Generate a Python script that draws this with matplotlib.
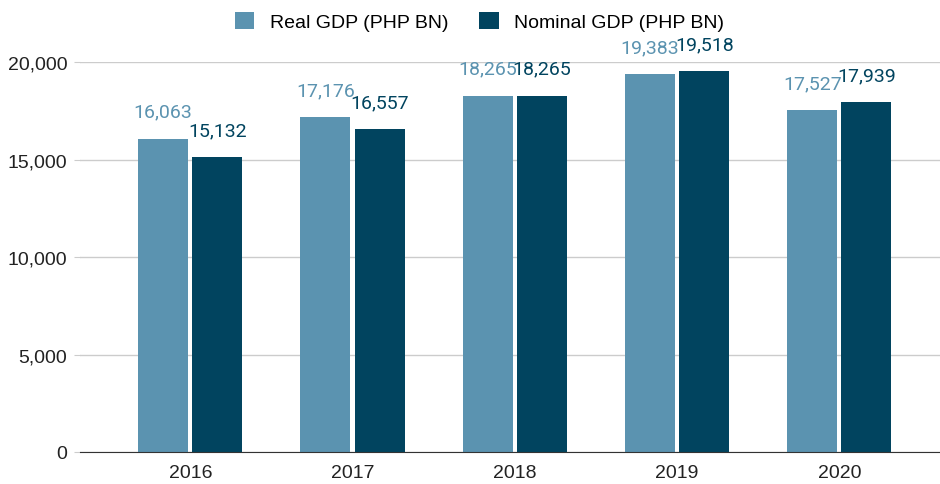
import matplotlib.pyplot as plt
import numpy as np

# data
years = ["2016", "2017", "2018", "2019", "2020"]
real_gdp = [16063, 17176, 18265, 19383, 17527]
nominal_gdp = [15132, 16557, 18265, 19518, 17939]

c_real = "#5b93b0"
c_nom = "#01445f"

fig = plt.figure(figsize=(9.4, 4.85), dpi=100)
ax = fig.add_axes([0.085, 0.066, 0.915, 0.804])

x = np.arange(len(years))
w = 0.308
gap = 0.013
b1 = ax.bar(x - w / 2 - gap, real_gdp, w, color=c_real, label="Real GDP (PHP BN)", zorder=3)
b2 = ax.bar(x + w / 2 + gap, nominal_gdp, w, color=c_nom, label="Nominal GDP (PHP BN)", zorder=3)

for rect, v in zip(b1, real_gdp):
    ax.annotate(f"{v:,}", (rect.get_x() + rect.get_width() / 2, v), xytext=(0, 13),
                textcoords="offset points", ha="center", va="bottom",
                color=c_real, fontsize=14, family="Roboto",
                annotation_clip=False)
for rect, v in zip(b2, nominal_gdp):
    ax.annotate(f"{v:,}", (rect.get_x() + rect.get_width() / 2, v), xytext=(0, 13),
                textcoords="offset points", ha="center", va="bottom",
                color=c_nom, fontsize=14, family="Roboto",
                annotation_clip=False)

ax.set_xlim(-0.68, 4.62)
ax.set_ylim(0, 20000)
ax.set_yticks([0, 5000, 10000, 15000, 20000])
ax.set_yticklabels(["0", "5,000", "10,000", "15,000", "20,000"])
ax.set_xticks(x)
ax.set_xticklabels(years)
ax.tick_params(axis="both", labelsize=14, labelcolor="#222222", colors="#cccccc")
ax.tick_params(axis="x", length=0, pad=9)
ax.tick_params(axis="y", length=4, pad=5)
for lab in ax.get_xticklabels() + ax.get_yticklabels():
    lab.set_family("Liberation Sans")

ax.grid(axis="y", color="#cccccc", linewidth=1, zorder=0)
for s in ["top", "right", "left"]:
    ax.spines[s].set_visible(False)
ax.spines["bottom"].set_color("#333333")
ax.spines["bottom"].set_zorder(4)

fig.legend(loc="upper center", bbox_to_anchor=(0.51, 1.01), ncol=2, frameon=False,
           prop={"family": "Liberation Sans", "size": 14}, handlelength=1.0,
           handleheight=1.0, columnspacing=1.6, handletextpad=0.8)

fig.savefig("out.png", dpi=100)
